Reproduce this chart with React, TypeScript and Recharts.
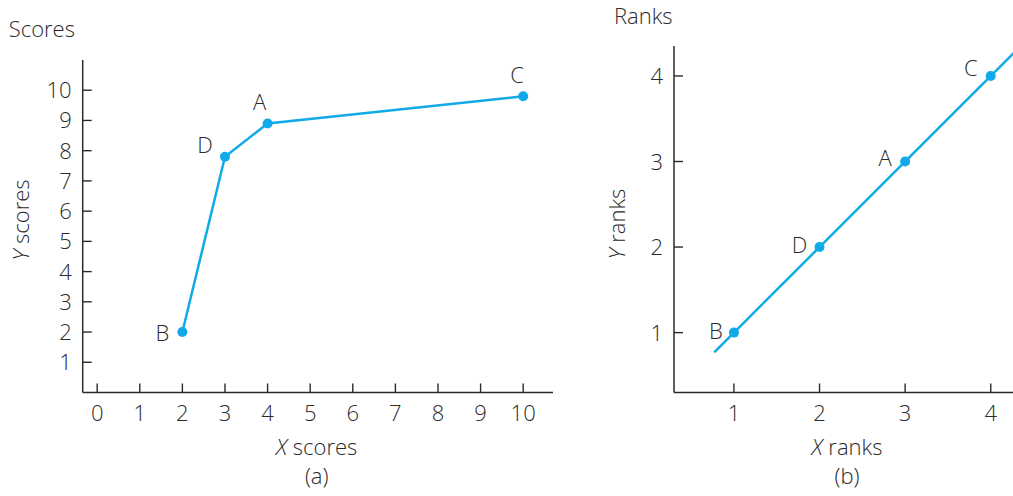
import { ComposedChart, Line, XAxis, YAxis, LabelList, ReferenceLine, Label } from "recharts";

// panel (a): raw scores
const scoreNames = ["B", "D", "A", "C"];
const xScores = [2, 3, 4, 10];
const yScores = [2, 7.8, 8.9, 9.8];
const scoreTicksX = [0, 1, 2, 3, 4, 5, 6, 7, 8, 9, 10];
const scoreTicksY = [1, 2, 3, 4, 5, 6, 7, 8, 9, 10];

// panel (b): ranks
const rankNames = ["B", "D", "A", "C"];
const xRanks = [1, 2, 3, 4];
const yRanks = [1, 2, 3, 4];
const rankTicks = [1, 2, 3, 4];
const rankLineStart = 0.77;
const rankLineEnd = 4.35;

const BLUE = "#10aae8";
const INK = "#2a2a2a";
const FONT = "'Open Sans', 'Noto Sans', sans-serif";
const FS = 22;
const FW = 300;

const scoreData = scoreNames.map((n, i) => ({ name: n, x: xScores[i], y: yScores[i] }));
const rankData = rankNames.map((n, i) => ({ name: n, x: xRanks[i], y: yRanks[i] }));

const offsA: Record<string, [number, number]> = { B: [-20, 1], D: [-20, -12], A: [-8, -21], C: [-6, -21] };
const offsB: Record<string, [number, number]> = { B: [-18, -2], D: [-20, -2], A: [-20, -3.5], C: [-20, -7.5] };

function XTick(props: any) {
    const { x, y, payload } = props;
    return (
        <g>
            <line x1={x} y1={y} x2={x} y2={y - 9} stroke={INK} strokeWidth={1.4} />
            <text x={x} y={y + 28} textAnchor="middle" fontFamily={FONT} fontWeight={FW} fontSize={FS} fill={INK}>{payload.value}</text>
        </g>
    );
}

function YTick(props: any) {
    const { x, y, payload } = props;
    return (
        <g>
            <line x1={x} y1={y} x2={x + 9} y2={y} stroke={INK} strokeWidth={1.4} />
            <text x={x - 11} y={y + 8} textAnchor="end" fontFamily={FONT} fontWeight={FW} fontSize={FS} fill={INK}>{payload.value}</text>
        </g>
    );
}

const pointLabel = (offs: Record<string, [number, number]>) => (props: any) => {
    const { x, y, value } = props;
    const [dx, dy] = offs[value] || [0, 0];
    return (
        <text x={x + dx} y={y + dy + 8} textAnchor="middle" fontFamily={FONT} fontWeight={FW} fontSize={FS} fill={INK}>{value}</text>
    );
};

// axis titles: main title above the y axis, rotated label on the left, x label + panel tag below
const yTitle = (title: string, axisLabel: string, titleX: number, titleY: number, labX: number, labY: number) => (props: any) => {
    const vb = props.viewBox;
    const lx = vb.x + labX;
    const ly = vb.y + labY;
    return (
        <g fontFamily={FONT} fontWeight={FW} fontSize={FS} fill={INK}>
            <text x={vb.x + titleX} y={vb.y + titleY}>{title}</text>
            <text x={lx} y={ly} textAnchor="middle" transform={`rotate(-90 ${lx} ${ly})`}>
                <tspan fontStyle="italic">Y</tspan> {axisLabel}
            </text>
        </g>
    );
};

const xTitle = (axisLabel: string, tag: string, cx: number, y1: number, y2: number) => (props: any) => {
    const vb = props.viewBox;
    return (
        <g fontFamily={FONT} fontWeight={FW} fontSize={FS} fill={INK}>
            <text x={vb.x + cx} y={vb.y + y1} textAnchor="middle">
                <tspan fontStyle="italic">X</tspan> {axisLabel}
            </text>
            <text x={vb.x + cx} y={vb.y + y2} textAnchor="middle">{tag}</text>
        </g>
    );
};

export default function App() {
    return (
        <div style={{ position: "absolute", left: 0, top: 0, width: 1013, height: 496, background: "#fff" }}>
            <div style={{ position: "absolute", left: 0, top: 0 }}>
                <ComposedChart width={560} height={496} data={scoreData}
                    margin={{ top: 60, left: 22.7, right: 7, bottom: 63.5 }}>
                    <XAxis type="number" dataKey="x" domain={[-0.34, 10.7]} allowDataOverflow
                        ticks={scoreTicksX} interval={0} tickSize={0} tickMargin={0} height={40}
                        tick={<XTick />} axisLine={{ stroke: INK, strokeWidth: 1.5 }}>
                        <Label content={xTitle("scores", "(a)", 234, 62, 91)} />
                    </XAxis>
                    <YAxis type="number" dataKey="y" domain={[0, 11]} allowDataOverflow
                        ticks={scoreTicksY} interval={0} tickSize={0} tickMargin={0} width={60}
                        tick={<YTick />} axisLine={{ stroke: INK, strokeWidth: 1.5 }}>
                        <Label content={yTitle("Scores", "scores", -14, -23, 6, 160)} />
                    </YAxis>
                    <Line type="linear" dataKey="y" stroke={BLUE} strokeWidth={2.5}
                        dot={{ r: 5, fill: BLUE, stroke: BLUE, strokeWidth: 0 }}
                        activeDot={false} isAnimationActive={false}>
                        <LabelList dataKey="name" content={pointLabel(offsA)} />
                    </Line>
                </ComposedChart>
            </div>
            <div style={{ position: "absolute", left: 580, top: 0 }}>
                <ComposedChart width={433} height={496} data={rankData}
                    margin={{ top: 46, left: 34, right: 0, bottom: 63.5 }}>
                    <XAxis type="number" dataKey="x" domain={[0.3, 4.26]} allowDataOverflow
                        ticks={rankTicks} interval={0} tickSize={0} tickMargin={0} height={40}
                        tick={<XTick />} axisLine={{ stroke: INK, strokeWidth: 1.5 }}>
                        <Label content={xTitle("ranks", "(b)", 173, 62, 91)} />
                    </XAxis>
                    <YAxis type="number" dataKey="y" domain={[0.3, 4.35]} allowDataOverflow
                        ticks={rankTicks} interval={0} tickSize={0} tickMargin={0} width={60}
                        tick={<YTick />} axisLine={{ stroke: INK, strokeWidth: 1.5 }}>
                        <Label content={yTitle("Ranks", "ranks", 0, -22, 11, 178)} />
                    </YAxis>
                    <ReferenceLine segment={[{ x: rankLineStart, y: rankLineStart }, { x: rankLineEnd, y: rankLineEnd }]}
                        stroke={BLUE} strokeWidth={2.5} ifOverflow="hidden" />
                    <Line type="linear" dataKey="y" stroke="none"
                        dot={{ r: 5, fill: BLUE, stroke: BLUE, strokeWidth: 0 }}
                        activeDot={false} isAnimationActive={false}>
                        <LabelList dataKey="name" content={pointLabel(offsB)} />
                    </Line>
                </ComposedChart>
            </div>
        </div>
    );
}
